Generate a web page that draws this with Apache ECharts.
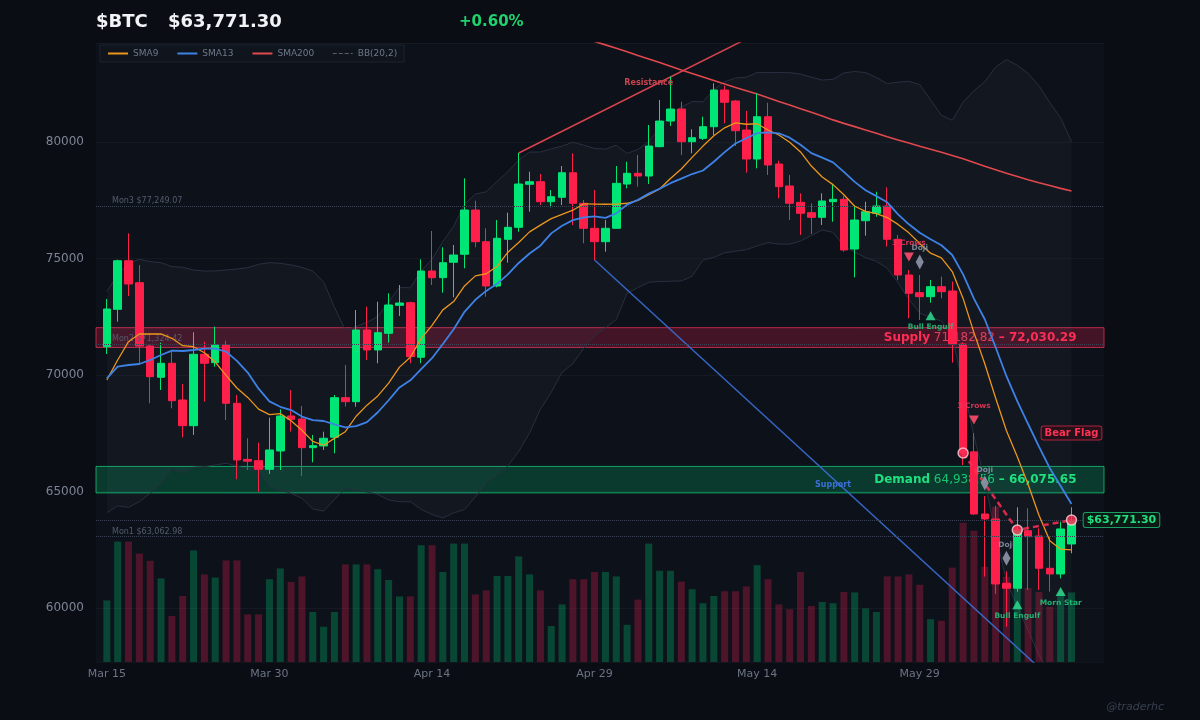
<!DOCTYPE html>
<html><head><meta charset="utf-8">
<script src="https://cdn.jsdelivr.net/npm/echarts@6/dist/echarts.min.js"></script>
<style>html,body{margin:0;padding:0;background:#0a0d13;}#c{width:1200px;height:720px;}</style>
</head><body><div id="c"></div>
<script>
const FONT = '"DejaVu Sans", sans-serif';
const ticker = '$BTC';
const handle = '@traderhc';

// ---- categories: daily candles Mar 15 .. Jun 12 (one empty slot before, three after) ----
const startYMD = [2024, 2, 15];
const candleCount = 90;
const padBefore = 1, padAfter = 3;
const monthNames = ['Jan','Feb','Mar','Apr','May','Jun','Jul','Aug','Sep','Oct','Nov','Dec'];
const xLabelEvery = 15;

// ---- OHLC ----
const opens = [71214,72819,74905,73961,71244,69901,70502,68927,67824,70888,
 70528,71287,68785,66380,66322,65952,66738,68240,68111,66880,
 66953,67326,69026,68854,71931,71073,71789,72990,73103,70760,
 74463,74176,74837,75180,77081,75721,73820,75824,76339,78185,
 78296,77438,77627,78682,77369,76296,75721,76296,78197,78657,
 78541,79800,80901,81416,80013,80157,80657,82232,81760,80515,
 79270,81086,79056,78112,77412,76966,76768,77438,77541,75407,
 76622,76940,77253,75824,74292,73532,73360,73790,73605,71330,
 66700,64034,63820,61060,60845,63318,63090,61703,61459,62747];
const closes = [72832,74905,73905,71244,69927,70502,68897,67824,70888,70502,
 71287,68785,66352,66300,65952,66781,68240,68097,66880,66966,
 67283,69026,68854,71931,71073,71815,73004,73090,70785,74463,
 74176,74820,75150,77081,75721,73820,75867,76339,78197,78296,
 77438,77652,78682,77369,76296,75721,76296,78227,78657,78541,
 79828,80901,81416,80013,80185,80657,82232,81704,80485,79270,
 81086,79013,78082,77369,76940,76768,77468,77541,75365,76652,
 77009,77253,75824,74292,73506,73360,73790,73575,71330,66650,
 64034,63820,61030,60845,63347,63061,61703,61459,63391,63771.30];
const lows = [70901,72287,73390,70502,68785,69356,68570,67326,67425,68854,
 70356,68068,65523,65922,64991,65751,65922,67566,65665,66253,
 66781,66639,68640,68640,70644,70502,71386,72532,70502,70502,
 73862,73532,73335,74579,75481,73360,73764,74820,76150,77009,
 77296,77197,77296,76438,75652,74935,75293,76296,78013,78082,
 78197,79772,80687,79442,79515,80086,80300,80803,79828,78682,
 78871,78584,77584,76652,76009,76052,76438,76579,75293,74193,
 75979,76794,75507,74077,72433,72360,73103,73290,70528,66137,
 63990,61344,60600,59197,60700,60772,60772,60700,61270,62347];
const highs = [73262,74950,76081,74721,71300,71386,71000,69614,71832,71429,
 72073,71472,69141,67283,67094,68167,68527,69356,68669,67425,
 67566,69141,70429,72790,72932,73146,73506,73862,73146,74965,
 76180,75481,75579,78442,77481,76296,76652,76966,79530,78725,
 78627,77940,78970,79515,77511,77940,76652,78970,79154,79442,
 80730,81803,82803,81730,80545,81086,82519,82416,81800,81330,
 82090,81687,79197,78584,77798,77369,77798,78155,77682,77296,
 77438,77867,78056,76009,74506,74292,74077,74220,74006,71400,
 67510,64800,64378,61570,64320,64277,63419,63061,63705,64320];
const volumes = [15.4,30.1,30.1,27.1,25.3,20.9,11.5,16.5,27.9,21.9,
 21.1,25.4,25.4,11.9,11.9,20.7,23.4,20.0,21.4,12.5,
 8.8,12.5,24.4,24.4,24.4,23.2,20.5,16.4,16.4,29.2,
 29.2,22.5,29.6,29.6,16.9,17.9,21.5,21.5,26.4,21.9,
 17.9,9.0,14.4,20.7,20.7,22.5,22.5,21.4,9.3,15.6,
 29.6,22.8,22.8,20.1,18.2,14.7,16.5,17.7,17.7,18.9,
 24.2,20.7,14.4,13.2,22.5,14.0,15.0,14.7,17.5,17.4,
 13.4,12.5,21.4,21.4,21.9,19.3,10.7,10.3,23.6,34.8,
 32.8,23.8,38.8,21.3,18.3,18.5,17.5,13.8,17.3,17.4];

// ---- indicator values before the window fills (earlier history not shown) ----
const sma9Lead = [69785,70644,71429,71760,71760,71760,71575,71257];
const sma13Lead = [69858,70356,70429,70472,70644,70858,71043,71030,71073,71130,71130,71000];
const bbUpperLead = [73590,74292,74794,74965,74864,74820,74650,74622,74506,74463,74463,74506,74549,74607,74750,74820,74794,74721,74622];
const bbLowerLead = [64090,64378,64320,64560,64920,65350,65950,65810,66040,66065,66137,66210,66094,65950,65890,65205,65064,64920,64706];
// SMA200, from day 44 (earlier values are above the visible range)
const sma200StartDay = 44;
const sma200Values = [84480,84320,84170,84020,83870,83710,83560,83410,83250,83090,
 82940,82790,82640,82490,82340,82200,82060,81900,81740,81590,
 81430,81280,81120,80950,80800,80660,80520,80380,80230,80090,
 79960,79820,79690,79560,79420,79280,79120,78960,78810,78660,
 78520,78380,78250,78130,78010,77900];

// ---- annotations ----
const resistanceFrom = [38, 79530], resistanceTo = [60, 84656];
const supportFrom = [45, 74935], supportTo = [89, 56165];
const supplyZone = [71182.82, 72030.29];
const demandZone = [64938.56, 66075.65];
const monLevels = [{name:'Mon3', value:77249.07},{name:'Mon2', value:71324.42},{name:'Mon1', value:63062.98}];
const patterns = [
  {day:74, name:'3 Crows', kind:'bear'},
  {day:75, name:'Doji', kind:'doji'},
  {day:76, name:'Bull Engulf', kind:'bull'},
  {day:80, name:'3 Crows', kind:'bear'},
  {day:81, name:'Doji', kind:'doji'},
  {day:83, name:'Doji', kind:'doji'},
  {day:84, name:'Bull Engulf', kind:'bull'},
  {day:88, name:'Morn Star', kind:'bull'}
];
const flagDays = [79, 84, 89];
const flagLabel = 'Bear Flag';

// ---- build ----
const cats = [];
for (let k = -padBefore; k < candleCount + padAfter; k++) {
  const d = new Date(startYMD[0], startYMD[1], startYMD[2] + k);
  cats.push(monthNames[d.getMonth()] + ' ' + d.getDate());
}
const cat = i => cats[i + padBefore];
const fmt2 = v => v.toLocaleString('en-US', {minimumFractionDigits:2, maximumFractionDigits:2});
const avg = (arr, n, i) => { let s = 0; for (let k = i - n + 1; k <= i; k++) s += arr[k]; return s / n; };
const sd = (arr, n, i, m) => { let s = 0; for (let k = i - n + 1; k <= i; k++) s += (arr[k]-m)*(arr[k]-m); return Math.sqrt(s / n); };

const sma9 = closes.map((c, i) => i < 8 ? sma9Lead[i] : avg(closes, 9, i));
const sma13 = closes.map((c, i) => i < 12 ? sma13Lead[i] : avg(closes, 13, i));
const bbUp = [], bbLo = [];
closes.forEach((c, i) => {
  if (i < 19) { bbUp.push(bbUpperLead[i]); bbLo.push(bbLowerLead[i]); }
  else { const m = avg(closes, 20, i), s = sd(closes, 20, i, m); bbUp.push(m + 2*s); bbLo.push(m - 2*s); }
});

const UP = '#00e676', DOWN = '#ff1f4b';
const lastIdx = candleCount - 1;
const lastClose = closes[lastIdx], prevClose = closes[lastIdx - 1];
const pct = (lastClose / prevClose - 1) * 100;
const pctText = (pct >= 0 ? '+' : '') + pct.toFixed(2) + '%';
const priceText = '$' + fmt2(lastClose);
const markerGap = 560;

const lineAt = (a, b, d) => a[1] + (b[1] - a[1]) * (d - a[0]) / (b[0] - a[0]);

const option = {
  animation: false,
  backgroundColor: '#0a0d13',
  textStyle: {fontFamily: FONT},
  grid: {left: 96, right: 96, top: 43, bottom: 58, show: true, backgroundColor: '#0d1119', borderWidth: 0, containLabel: false, outerBoundsMode: 'none'},
  legend: {
    left: 100, top: 45, padding: [4, 7, 4, 7], backgroundColor: '#0f141d', borderColor: '#1d2331', borderWidth: 1,
    itemWidth: 20, itemHeight: 8, itemGap: 18, selectedMode: false,
    itemStyle: {opacity: 0},
    textStyle: {color: '#6f788a', fontSize: 9, fontFamily: FONT},
    data: ['SMA9', 'SMA13', 'SMA200', {name: 'BB(20,2)', lineStyle: {color: '#566073', type: 'dashed', width: 1}, itemStyle: {opacity: 0}}]
  },
  xAxis: {
    type: 'category', data: cats, boundaryGap: false,
    axisLine: {show: false}, axisTick: {show: false}, splitLine: {show: false},
    axisLabel: {color: '#6b7385', fontSize: 11, margin: 7, fontFamily: FONT,
      interval: idx => idx >= padBefore && idx < padBefore + candleCount && (idx - padBefore) % xLabelEvery === 0}
  },
  yAxis: [
    {type: 'value', min: 57680, max: 84250, splitNumber: 5, minInterval: 5000, maxInterval: 5000,
     axisLine: {show: false}, axisTick: {show: false},
     splitLine: {lineStyle: {color: 'rgba(255,255,255,0.035)'}},
     axisLabel: {color: '#7c8496', fontSize: 12, margin: 12, fontFamily: FONT, showMinLabel: false, showMaxLabel: false,
       formatter: v => (v % 5000 === 0 ? String(v) : '')}},
    {type: 'value', min: 0, max: 154.75, show: false, splitLine: {show: false}}
  ],
  graphic: [
    {type: 'text', x: 96, y: 22, style: {text: ticker, fill: '#f1f3f7', font: 'bold 18px ' + FONT, verticalAlign: 'middle'}},
    {type: 'text', x: 168, y: 22, style: {text: priceText, fill: '#f1f3f7', font: 'bold 18px ' + FONT, verticalAlign: 'middle'}},
    {type: 'text', x: 459, y: 22, style: {text: pctText, fill: pct >= 0 ? '#1ed36e' : DOWN, font: 'bold 15px ' + FONT, verticalAlign: 'middle'}},
    {type: 'text', x: 1164, y: 707, style: {text: handle, fill: '#394151', font: 'italic 11px ' + FONT, align: 'right', verticalAlign: 'middle'}}
  ],
  series: [
    {name: 'BB(20,2)', type: 'line', stack: 'bb', symbol: 'none', silent: true, z: 1,
     data: bbLo.map((v, i) => [cat(i), v]), lineStyle: {color: '#283041', width: 1}},
    {name: 'BB(20,2)', type: 'line', stack: 'bb', symbol: 'none', silent: true, z: 1,
     data: bbUp.map((v, i) => [cat(i), v - bbLo[i]]), lineStyle: {color: '#283041', width: 1},
     areaStyle: {color: 'rgba(110,130,175,0.07)'}},
    {name: 'Volume', type: 'bar', yAxisIndex: 1, barWidth: 7, silent: true, z: 2,
     data: volumes.map((v, i) => ({value: [cat(i), v], itemStyle: {color: closes[i] >= opens[i] ? 'rgba(0,200,120,0.30)' : 'rgba(230,30,80,0.30)'}}))},
    {name: 'SMA200', type: 'line', symbol: 'none', silent: true, z: 3,
     data: sma200Values.map((v, k) => [cat(sma200StartDay + k), v]), lineStyle: {color: '#e0484e', width: 1.6}, itemStyle: {color: '#e0484e'}},
    {name: 'Resistance', type: 'line', symbol: 'none', silent: true, z: 3,
     data: [[cat(resistanceFrom[0]), resistanceFrom[1]], [cat(resistanceTo[0]), resistanceTo[1]]],
     lineStyle: {color: '#d8434f', width: 1.5},
     markPoint: {symbolSize: 0, silent: true, data: [{coord: [cat(50), lineAt(resistanceFrom, resistanceTo, 50)],
       label: {show: true, formatter: 'Resistance', offset: [0, -5], color: '#c9444f', fontSize: 8, fontWeight: 'bold', fontFamily: FONT}}]}},
    {name: 'Support', type: 'line', symbol: 'none', silent: true, z: 3,
     data: [[cat(supportFrom[0]), supportFrom[1]], [cat(supportTo[0]), supportTo[1]]],
     lineStyle: {color: '#3a6fd6', width: 1.5, opacity: 0.9},
     markPoint: {symbolSize: 0, silent: true, data: [{coord: [cat(67), lineAt(supportFrom, supportTo, 67)],
       label: {show: true, formatter: 'Support', offset: [0, 6], color: '#3a6fd6', fontSize: 8, fontWeight: 'bold', fontFamily: FONT}}]}},
    {name: 'BTC', type: 'candlestick', barWidth: 8, silent: true, z: 4,
     encode: {x: 0, y: [1, 2, 3, 4]},
     data: closes.map((c, i) => [cat(i), opens[i], c, lows[i], highs[i]]),
     itemStyle: {color: UP, color0: DOWN, borderColor: UP, borderColor0: DOWN, borderWidth: 1}},
    {name: 'SMA9', type: 'line', symbol: 'none', silent: true, z: 5,
     data: sma9.map((v, i) => [cat(i), v]), lineStyle: {color: '#ec961c', width: 1.3}, itemStyle: {color: '#ec961c'}},
    {name: 'SMA13', type: 'line', symbol: 'none', silent: true, z: 5,
     data: sma13.map((v, i) => [cat(i), v]), lineStyle: {color: '#3e82e6', width: 1.8}, itemStyle: {color: '#3e82e6'}},
    {name: 'Zones', type: 'line', data: [], silent: true, z: 6,
     markArea: {silent: true, data: [
       [{yAxis: supplyZone[0], itemStyle: {color: 'rgba(214,30,72,0.27)', borderColor: 'rgba(235,50,90,0.75)', borderWidth: 1},
         label: {show: true, position: 'insideRight', offset: [-23, 0],
           formatter: '{a|Supply} {b|' + fmt2(supplyZone[0]) + '} {a|– ' + fmt2(supplyZone[1]) + '}',
           rich: {a: {color: '#ff2d55', fontWeight: 'bold', fontSize: 12, fontFamily: FONT}, b: {color: '#d9405d', fontSize: 12, fontFamily: FONT}}}},
        {yAxis: supplyZone[1]}],
       [{yAxis: demandZone[0], itemStyle: {color: 'rgba(0,200,120,0.22)', borderColor: 'rgba(20,220,130,0.7)', borderWidth: 1},
         label: {show: true, position: 'insideRight', offset: [-23, 0],
           formatter: '{a|Demand} {b|' + fmt2(demandZone[0]) + '} {a|– ' + fmt2(demandZone[1]) + '}',
           rich: {a: {color: '#1fe07e', fontWeight: 'bold', fontSize: 12, fontFamily: FONT}, b: {color: '#19c472', fontSize: 12, fontFamily: FONT}}}},
        {yAxis: demandZone[1]}]
     ]},
     markLine: {silent: true, symbol: ['none', 'none'], lineStyle: {type: 'dotted', color: '#3a4254', width: 1},
       label: {position: 'insideStartTop', color: '#535b6d', fontSize: 8, fontFamily: FONT, distance: [16, 1]},
       data: monLevels.map(m => ({yAxis: m.value, label: {formatter: m.name + ' $' + fmt2(m.value)}}))
         .concat([{yAxis: lastClose, label: {show: false}}])}},
    {name: 'Flag', type: 'line', symbol: 'none', silent: true, z: 7,
     data: flagDays.map(d => [cat(d), closes[d]]),
     lineStyle: {color: '#ff2d55', width: 2.5, type: [6, 4], opacity: 0.85},
     markPoint: {symbolSize: 0, silent: true, data: [
       {coord: [cat(lastIdx), lastClose], label: {show: true, formatter: flagLabel, offset: [0, -87], color: '#ff3355', fontSize: 10, fontWeight: 'bold', fontFamily: FONT,
         backgroundColor: '#26101a', borderColor: '#b3203f', borderWidth: 1, borderRadius: 2, padding: [2, 3, 1, 3]}},
       {coord: [cat(lastIdx), lastClose], label: {show: true, formatter: priceText, offset: [50, 0], color: '#1fe07e', fontSize: 11, fontWeight: 'bold', fontFamily: FONT,
         backgroundColor: '#0b1a14', borderColor: '#1c9e63', borderWidth: 1, borderRadius: 2, padding: [2, 3, 1, 3]}}
     ]}},
    {name: 'FlagPts', type: 'scatter', silent: true, z: 8, symbol: 'circle', symbolSize: 10,
     data: flagDays.map(d => [cat(d), closes[d]]),
     itemStyle: {color: '#ff2d55', borderColor: '#ffd3dc', borderWidth: 1.5}},
    {name: 'Patterns', type: 'scatter', silent: true, z: 8,
     data: patterns.map(p => {
       const i = p.day, bull = p.kind === 'bull', doji = p.kind === 'doji';
       const col = bull ? '#2ed18a' : doji ? '#8e96a8' : '#ff4d6d';
       const txt = bull ? '#23c07a' : doji ? '#8a92a4' : '#e8365a';
       return {
         value: [cat(i), bull ? lows[i] - markerGap : highs[i] + markerGap],
         symbol: doji ? 'diamond' : 'triangle',
         symbolRotate: p.kind === 'bear' ? 180 : 0,
         symbolSize: doji ? [8, 15] : [10, 9],
         itemStyle: {color: col, opacity: 0.9},
         label: {show: true, formatter: p.name, position: bull ? 'bottom' : 'top', distance: doji ? 2 : (bull ? 3 : 5),
           color: txt, fontSize: 7.5, fontWeight: 'bold', fontFamily: FONT}
       };
     })}
  ]
};

const chart = echarts.init(document.getElementById('c'), null, {renderer: 'canvas', width: 1200, height: 720});
chart.setOption(option);
</script></body></html>
